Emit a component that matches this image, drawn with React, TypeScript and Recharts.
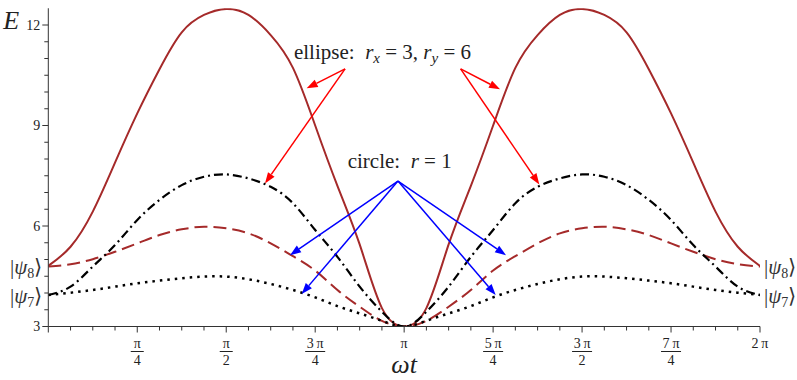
import { LineChart, Line, XAxis, YAxis, ReferenceLine } from "recharts";

// ωt sampled every π/16 from 0 to 2π
const steps = Array.from({ length: 33 }, (_, k) => k);

// energies
const ellipse8 = [
  4.81, 5.38, 6.43, 7.89, 9.36, 10.68, 11.78, 12.3, 12.48, 12.3, 11.7, 10.72, 9.0, 7.2, 5.45, 3.55, 3.0,
  3.55, 5.45, 7.2, 9.0, 10.72, 11.7, 12.3, 12.48, 12.3, 11.78, 10.68, 9.36, 7.89, 6.43, 5.38, 4.81,
];
const ellipse7 = [
  4.79, 4.86, 5.01, 5.23, 5.48, 5.73, 5.9, 5.98, 5.93, 5.78, 5.48, 5.1, 4.67, 4.09, 3.59, 3.17, 3.0,
  3.17, 3.59, 4.09, 4.67, 5.1, 5.48, 5.78, 5.93, 5.98, 5.9, 5.73, 5.48, 5.23, 5.01, 4.86, 4.79,
];
const circle8 = [
  3.94, 4.19, 4.79, 5.43, 6.18, 6.78, 7.22, 7.47, 7.54, 7.42, 7.17, 6.68, 5.88, 5.08, 4.19, 3.44, 3.0,
  3.44, 4.19, 5.08, 5.88, 6.68, 7.17, 7.42, 7.54, 7.47, 7.22, 6.78, 6.18, 5.43, 4.79, 4.19, 3.94,
];
const circle7 = [
  3.94, 4.01, 4.09, 4.19, 4.29, 4.37, 4.44, 4.49, 4.49, 4.41, 4.27, 4.09, 3.87, 3.61, 3.39, 3.17, 3.0,
  3.17, 3.39, 3.61, 3.87, 4.09, 4.27, 4.41, 4.49, 4.49, 4.44, 4.37, 4.29, 4.19, 4.09, 4.01, 3.94,
];

const xNum = ["π", "π", "3\u2009π", "π", "5\u2009π", "3\u2009π", "7\u2009π", "2\u2009π"];
const xDen = ["4", "2", "4", "", "4", "2", "4", ""];
const yTicks = Array.from({ length: 19 }, (_, i) => 3 + i * 0.5);
const xTicks = steps.map((k) => (k * Math.PI) / 16);

const data = steps.map((k, i) => ({
  t: (k * Math.PI) / 16,
  e8: ellipse8[i],
  e7: ellipse7[i],
  c8: circle8[i],
  c7: circle7[i],
}));

const FONT = "Liberation Serif, Times New Roman, serif";
const INK = "#222";
const BROWN = "#a52a2a";

// arrows [from t, from E, to t, to E]
const redArrows = [
  [2.62, 10.69, 2.281, 10.11],
  [2.62, 10.69, 1.913, 7.27],
  [3.64, 10.69, 3.988, 10.08],
  [3.64, 10.69, 4.335, 7.24],
];
const blueArrows = [
  [3.087, 7.34, 2.134, 5.13],
  [3.087, 7.34, 2.237, 3.97],
  [3.087, 7.34, 4.041, 5.13],
  [3.087, 7.34, 3.95, 3.94],
];

const arrowShape = (color: string) => (p: any) => {
  const { x1, y1, x2, y2 } = p;
  const a = Math.atan2(y2 - y1, x2 - x1);
  const L = 11;
  const W = 4;
  const bx = x2 - L * Math.cos(a);
  const by = y2 - L * Math.sin(a);
  const px = -Math.sin(a) * W;
  const py = Math.cos(a) * W;
  return (
    <g>
      <line x1={x1} y1={y1} x2={bx} y2={by} stroke={color} strokeWidth={1.5} />
      <polygon points={`${x2},${y2} ${bx + px},${by + py} ${bx - px},${by - py}`} fill={color} />
    </g>
  );
};

const XTick = (props: any) => {
  const { x, y, payload } = props;
  const k = Math.round(payload.value / (Math.PI / 16));
  const major = k % 4 === 0;
  const i = k / 4 - 1;
  const den = major && i >= 0 ? xDen[i] : "";
  const half = major && i >= 0 && xNum[i].length > 1 ? 10 : 6.5;
  return (
    <g>
      <line x1={x} x2={x} y1={y} y2={y + (major ? 6 : 4)} stroke="#333" />
      {major && i >= 0 && (
        <g fontFamily={FONT} fontSize={14} fill={INK} textAnchor="middle">
          <text x={x} y={y + 21}>{xNum[i]}</text>
          {den && (
            <>
              <line x1={x - half} x2={x + half} y1={y + 25} y2={y + 25} stroke={INK} strokeWidth={1} />
              <text x={x} y={y + 38}>{den}</text>
            </>
          )}
        </g>
      )}
    </g>
  );
};

const YTick = (props: any) => {
  const { x, y, payload } = props;
  const v = payload.value;
  const major = v % 3 === 0;
  return (
    <g>
      <line x1={x} x2={x - (major ? 6 : 4)} y1={y} y2={y} stroke="#333" />
      {major && (
        <text x={x - 8} y={y} dy="0.35em" textAnchor="end" fontFamily={FONT} fontSize={14} fill={INK}>
          {v}
        </text>
      )}
    </g>
  );
};

const ket = (n: string, anchor: "start" | "end", dx: number) => (p: any) => (
  <text x={p.x1 + dx} y={p.y1 + 1} dy="0.35em" textAnchor={anchor} fontFamily={FONT} fontSize={21} fill="#333">
    |<tspan fontStyle="italic">ψ</tspan>
    <tspan fontSize={14} dy={4}>{n}</tspan>
    <tspan dy={-4}>⟩</tspan>
  </text>
);

const ellipseText = (p: any) => (
  <text x={p.x1} y={p.y1} fontFamily={FONT} fontSize={21} fill={INK}>
    ellipse:{"\u2002"}
    <tspan fontStyle="italic">r</tspan>
    <tspan fontStyle="italic" fontSize={15} dy={4}>x</tspan>
    <tspan dy={-4}> = 3, </tspan>
    <tspan fontStyle="italic">r</tspan>
    <tspan fontStyle="italic" fontSize={15} dy={4}>y</tspan>
    <tspan dy={-4}> = 6</tspan>
  </text>
);

const circleText = (p: any) => (
  <text x={p.x1} y={p.y1} fontFamily={FONT} fontSize={21} fill={INK}>
    circle:{"\u2002"}
    <tspan fontStyle="italic">r</tspan>
    <tspan> = 1</tspan>
  </text>
);

const eLabel = (p: any) => (
  <text x={p.x1 - 45} y={p.y1 + 21} fontFamily={FONT} fontSize={26} fontStyle="italic" fill={INK}>
    E
  </text>
);

const wtLabel = (p: any) => (
  <text x={p.x1} y={p.y1 + 46} textAnchor="middle" fontFamily={FONT} fontSize={26} fontStyle="italic" fill={INK}>
    ωt
  </text>
);

const pt = (t: number, e: number) => [{ x: t, y: e }, { x: t, y: e }];

export default function App() {
  return (
    <div style={{ position: "absolute", left: 0, top: 0, width: 797, height: 380, background: "#fff" }}>
      <LineChart
        width={797}
        height={380}
        data={data}
        margin={{ top: 8.25, right: 37, bottom: 52.5, left: 47.3 }}
      >
        <XAxis
          dataKey="t"
          type="number"
          domain={[0, 2 * Math.PI]}
          ticks={xTicks}
          interval={0}
          height={1}
          tickSize={0}
          tickMargin={0}
          tickLine={false}
          axisLine={{ stroke: "#333" }}
          tick={<XTick />}
          allowDataOverflow
        />
        <YAxis
          type="number"
          domain={[3, 12.5]}
          ticks={yTicks}
          interval={0}
          width={1}
          tickSize={0}
          tickMargin={0}
          tickLine={false}
          axisLine={{ stroke: "#333" }}
          tick={<YTick />}
          allowDataOverflow
        />
        <Line type="natural" dataKey="e8" stroke={BROWN} strokeWidth={2} dot={false} isAnimationActive={false} />
        <Line type="natural" dataKey="e7" stroke={BROWN} strokeWidth={2} strokeDasharray="13 6" dot={false} isAnimationActive={false} />
        <Line type="natural" dataKey="c8" stroke="#000" strokeWidth={2.2} strokeDasharray="9 4 2 4" dot={false} isAnimationActive={false} />
        <Line type="natural" dataKey="c7" stroke="#000" strokeWidth={2.5} strokeDasharray="2.5 5" dot={false} isAnimationActive={false} />

        {redArrows.map((a, i) => (
          <ReferenceLine key={`r${i}`} segment={[{ x: a[0], y: a[1] }, { x: a[2], y: a[3] }]} ifOverflow="visible" shape={arrowShape("#ff0000")} />
        ))}
        {blueArrows.map((a, i) => (
          <ReferenceLine key={`b${i}`} segment={[{ x: a[0], y: a[1] }, { x: a[2], y: a[3] }]} ifOverflow="visible" shape={arrowShape("#0000ff")} />
        ))}

        <ReferenceLine segment={pt(2.169, 11.0)} ifOverflow="visible" shape={ellipseText} />
        <ReferenceLine segment={pt(2.643, 7.72)} ifOverflow="visible" shape={circleText} />
        <ReferenceLine segment={pt(0, ellipse8[0])} ifOverflow="visible" shape={ket("8", "end", -6)} />
        <ReferenceLine segment={pt(0, circle7[0])} ifOverflow="visible" shape={ket("7", "end", -6)} />
        <ReferenceLine segment={pt(2 * Math.PI, ellipse8[32])} ifOverflow="visible" shape={ket("8", "start", 4)} />
        <ReferenceLine segment={pt(2 * Math.PI, circle7[32])} ifOverflow="visible" shape={ket("7", "start", 4)} />
        <ReferenceLine segment={pt(0, 12.5)} ifOverflow="visible" shape={eLabel} />
        <ReferenceLine segment={pt(Math.PI, 3)} ifOverflow="visible" shape={wtLabel} />
      </LineChart>
    </div>
  );
}
